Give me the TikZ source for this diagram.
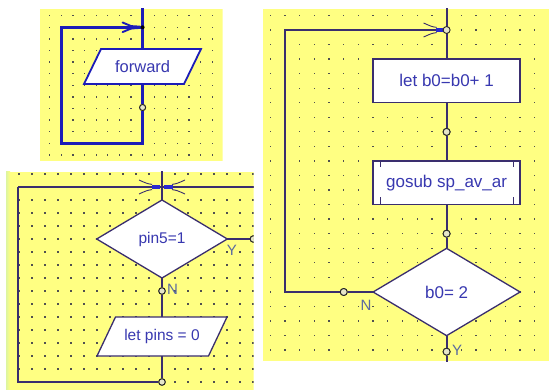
\documentclass[tikz,border=0pt]{standalone}
\usepackage{fontspec}
\setmainfont{Liberation Sans}
\usetikzlibrary{shapes.geometric}
\definecolor{bgyel}{HTML}{FFFF82}
\definecolor{dotc}{HTML}{505050}
\definecolor{lineblue}{HTML}{1C1CB8}
\definecolor{linedark}{HTML}{3A2E6E}
\definecolor{txtblue}{HTML}{3838B0}
\definecolor{lblc}{HTML}{5A6AA0}
\definecolor{fillblue}{HTML}{2A2AD0}
\definecolor{circfill}{HTML}{E6E6C8}
\definecolor{strip}{HTML}{DDF5A0}
\begin{document}
\begin{tikzpicture}[x=1pt,y=-1pt,
  l1/.style={draw=lineblue,line width=2.6pt},
  l2/.style={draw=linedark,line width=1.8pt},
  shp1/.style={draw=lineblue,line width=1.8pt,fill=white,line join=miter},
  shp2/.style={draw=linedark,line width=1.3pt,fill=white},
  txt1/.style={inner sep=0pt,outer sep=0pt,text=txtblue,font=\fontsize{16.5}{18}\selectfont},
  txt2/.style={inner sep=0pt,outer sep=0pt,text=txtblue,font=\fontsize{15.5}{17}\selectfont},
  txt3/.style={inner sep=0pt,outer sep=0pt,text=txtblue,font=\fontsize{17}{19}\selectfont},
  lbl/.style={inner sep=0pt,text=lblc,font=\fontsize{15}{16}\selectfont},
  dia2/.style={diamond,shp2,txt2,minimum width=130.6pt,minimum height=78pt},
  dia3/.style={diamond,shp2,txt3,minimum width=147pt,minimum height=87.3pt},
  box3/.style={rectangle,shp2,txt3,minimum width=147pt,minimum height=43.7pt},
  circ/.style={circle,draw=black!85,line width=0.9pt,fill=circfill,inner sep=0pt,minimum size=6.5pt},
  dotm/.style={fill=dotc},
  forkA/.pic={
    \fill[lineblue] (-14,-2.3) -- (-2.5,-1.6) -- (0,0) -- (-2.5,1.6) -- (-14,2.3) -- cycle;
    \draw[lineblue,line width=1.9pt,line cap=round] (-11,-1) -- (-20,-4.8);
    \draw[lineblue,line width=1.9pt,line cap=round] (-11,1) -- (-20,4.8);
  },
  forkB/.pic={
    \fill[fillblue] (-10.5,-2.3) rectangle (-1.8,2.3);
    \draw[linedark,line width=0.9pt] (-10,-2.6) .. controls (-15,-3.4) .. (-23,-7);
    \draw[linedark,line width=0.9pt] (-10,2.6) .. controls (-15,3.4) .. (-23,7);
  }
]
\useasboundingbox (0,0) rectangle (549,390);
\fill[white] (0,0) rectangle (549,390);

% ---------------- panel 1 ----------------
\begin{scope}
\clip (40,9) rectangle (222.5,161.5);
\fill[bgyel] (40,9) rectangle (222.5,161.5);
\foreach \k in {-8,...,6}{\foreach \j in {-1,...,11}{
  \fill[dotm] ({142.6+11.6*\k-0.65},{27.3+11.6*\j-0.65}) rectangle ++(1.3,1.3);}}
\coordinate (p1top) at (142.6,5);
\coordinate (j1) at (142.6,27.3);
\coordinate (b1) at (142.6,143.3);
\coordinate (b1l) at (61.4,143.3);
\coordinate (t1l) at (61.4,27.3);
\draw[shp1] (101,49) -- (201,49) -- (184,84) -- (84,84) -- cycle;
\node[txt1,minimum height=35pt] (fw) at (142.6,66.5) {forward};
\node[circ,minimum size=6pt] (c1) at (142.6,107.5) {};
\draw[l1] (p1top) -- (fw.north);
\draw[l1] (fw.south) -- (c1);
\draw[l1,line join=miter] (c1) -- (b1) -- (b1l) -- (t1l) -- (j1);
\pic at (j1) {forkA};
\node[circle,fill=black,inner sep=0pt,minimum size=4pt] (jd1) at (j1) {};
\node[circ,minimum size=6pt] at (c1) {};
\end{scope}

% ---------------- panel 2 ----------------
\begin{scope}
\clip (6,172) rectangle (253.5,390);
\fill[bgyel] (6,172) rectangle (253.5,390);
\shade[left color=strip,right color=bgyel] (6,172) rectangle (10,390);
\foreach \k in {-11,...,7}{\foreach \j in {-1,...,15}{
  \fill[dotm] ({162+13*\k-0.65},{187+13*\j-0.65}) rectangle ++(1.3,1.3);}}
\coordinate (p2top) at (162,168);
\coordinate (j2) at (162,187);
\coordinate (p2l) at (18,187);
\coordinate (p2r) at (260,187);
\coordinate (p2bl) at (18,382);
\node[dia2] (d2) at (162,239) {pin5=1};
\draw[shp2] (115.5,317) -- (227,317) -- (208.5,356) -- (97,356) -- cycle;
\node[txt2,minimum height=39pt] (lp) at (162,336.5) {let pins = 0};
\node[circ] (c2n) at (162,291) {};
\node[circ] (c2y) at (253.4,239) {};
\node[circ] (c2b) at (162,382) {};
\draw[l2] (p2top) -- (d2.north);
\draw[l2] (p2l) -- (p2r);
\draw[l2] (d2.east) -- (c2y);
\draw[l2] (d2.south) -- (c2n) -- (lp.north);
\draw[l2,line join=miter] (lp.south) -- (c2b) -- (p2bl) -- (p2l);
\pic at (j2) {forkB};
\pic[rotate=180] at (j2) {forkB};
\node[circle,fill=linedark,inner sep=0pt,minimum size=3.5pt] (jd2) at (j2) {};
\node[circ] at (c2n) {};
\node[circ] at (c2y) {};
\node[circ] at (c2b) {};
\node[lbl] (y2) at (232,250.5) {Y};
\node[lbl] (n2) at (172.5,289.5) {N};
\end{scope}

% ---------------- panel 3 ----------------
\begin{scope}
\clip (262.5,9) rectangle (549,361);
\fill[bgyel] (262.5,9) rectangle (549,361);
\foreach \k in {0,...,19}{\foreach \j in {-1,...,22}{
  \fill[dotm] ({270.3+14.69*\k-0.65},{30+14.55*\j-0.65}) rectangle ++(1.3,1.3);}}
\coordinate (p3top) at (446.6,5);
\coordinate (j3) at (446.6,30);
\coordinate (l3t) at (285,30);
\coordinate (l3b) at (285,292);
\coordinate (p3bot) at (446.6,366);
\node[box3] (b3a) at (446.6,80.9) {let b0=b0+ 1};
\node[box3] (b3b) at (446.6,182.8) {gosub sp\_av\_ar};
\draw[linedark,line width=1.1pt] ([xshift=7pt]b3b.north west) -- ++(0,6.5);
\draw[linedark,line width=1.1pt] ([xshift=-7pt]b3b.north east) -- ++(0,6.5);
\draw[linedark,line width=1.1pt] ([xshift=7pt]b3b.south west) -- ++(0,-7.5);
\draw[linedark,line width=1.1pt] ([xshift=-7pt]b3b.south east) -- ++(0,-7.5);
\node[dia3] (d3) at (446.6,292) {b0= 2};
\node[circ,minimum size=7pt] (c3a) at (446.6,131.9) {};
\node[circ,minimum size=7pt] (c3b) at (446.6,233.7) {};
\node[circ,minimum size=7pt] (c3y) at (446.6,351.7) {};
\node[circ,minimum size=7pt] (c3n) at (343.75,292) {};
\draw[l2] (p3top) -- (b3a.north);
\draw[l2] (b3a.south) -- (c3a) -- (b3b.north);
\draw[l2] (b3b.south) -- (c3b) -- (d3.north);
\draw[l2] (d3.south) -- (c3y) -- (p3bot);
\draw[l2,line join=miter] (d3.west) -- (c3n) -- (l3b) -- (l3t) -- (j3);
\pic at (j3) {forkB};
\node[circ,minimum size=7pt] (jc3) at (j3) {};
\node[circ,minimum size=7pt] at (c3a) {};
\node[circ,minimum size=7pt] at (c3b) {};
\node[circ,minimum size=7pt] at (c3y) {};
\node[circ,minimum size=7pt] at (c3n) {};
\node[lbl] (n3) at (366,305) {N};
\node[lbl] (y3) at (457,350) {Y};
\end{scope}
\end{tikzpicture}
\end{document}
